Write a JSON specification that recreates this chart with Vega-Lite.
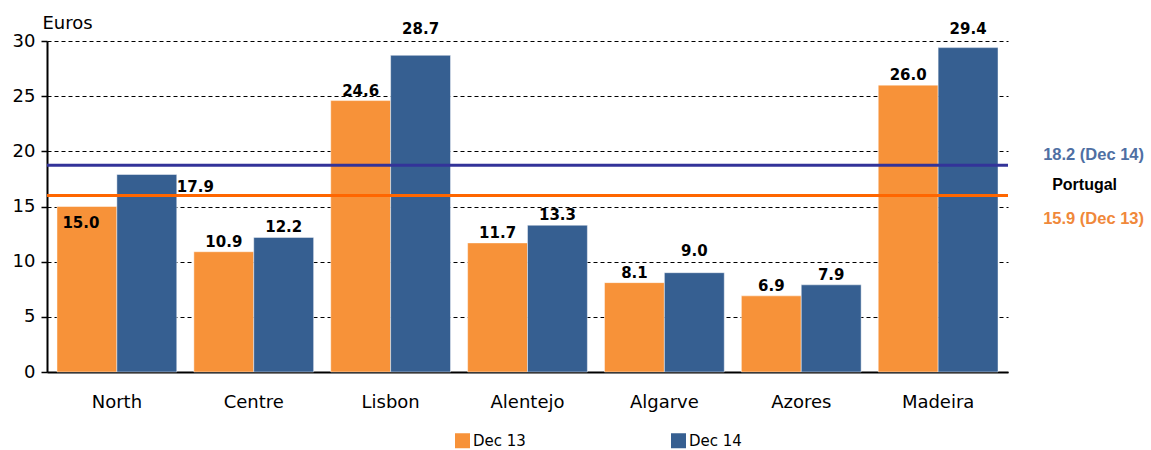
{
  "$schema": "https://vega.github.io/schema/vega-lite/v6.json",
  "width": 961,
  "height": 331,
  "autosize": {"type": "none"},
  "padding": {"left": 47, "top": 41, "right": 143, "bottom": 78},
  "background": "white",
  "config": {
    "view": {"stroke": null},
    "font": "DejaVu Sans",
    "axis": {"labelColor": "#000000", "titleColor": "#000000"}
  },
  "datasets": {
    "bars": [
      {"region": "North", "series": "Dec 13", "value": 15.0},
      {"region": "North", "series": "Dec 14", "value": 17.9},
      {"region": "Centre", "series": "Dec 13", "value": 10.9},
      {"region": "Centre", "series": "Dec 14", "value": 12.2},
      {"region": "Lisbon", "series": "Dec 13", "value": 24.6},
      {"region": "Lisbon", "series": "Dec 14", "value": 28.7},
      {"region": "Alentejo", "series": "Dec 13", "value": 11.7},
      {"region": "Alentejo", "series": "Dec 14", "value": 13.3},
      {"region": "Algarve", "series": "Dec 13", "value": 8.1},
      {"region": "Algarve", "series": "Dec 14", "value": 9.0},
      {"region": "Azores", "series": "Dec 13", "value": 6.9},
      {"region": "Azores", "series": "Dec 14", "value": 7.9},
      {"region": "Madeira", "series": "Dec 13", "value": 26.0},
      {"region": "Madeira", "series": "Dec 14", "value": 29.4}
    ],
    "portugal": [
      {"series": "Dec 14", "value": 18.2, "level": 18.75},
      {"series": "Dec 13", "value": 15.9, "level": 16.0}
    ]
  },
  "layer": [
    {
      "data": {"name": "bars"},
      "mark": {"type": "bar", "stroke": "#ffffff", "strokeOpacity": 0.45, "strokeWidth": 1},
      "encoding": {
        "x": {
          "field": "region",
          "type": "nominal",
          "sort": ["North", "Centre", "Lisbon", "Alentejo", "Algarve", "Azores", "Madeira"],
          "scale": {"paddingInner": 0.125, "paddingOuter": 0.073},
          "axis": {
            "title": null,
            "ticks": false,
            "domainColor": "#000000",
            "domainWidth": 2,
            "labelFont": "DejaVu Sans",
            "labelFontSize": 18,
            "labelPadding": 21,
            "labelAngle": 0,
            "grid": false
          }
        },
        "xOffset": {
          "field": "series",
          "type": "nominal",
          "sort": ["Dec 13", "Dec 14"],
          "scale": {"paddingInner": 0, "paddingOuter": 0}
        },
        "y": {
          "field": "value",
          "type": "quantitative",
          "scale": {"domain": [0, 30], "nice": false},
          "axis": {
            "title": "Euros",
            "titleAngle": 0,
            "titleAlign": "left",
            "titleBaseline": "bottom",
            "titleX": -5,
            "titleY": -9,
            "titleFont": "DejaVu Sans",
            "titleFontSize": 18,
            "titleFontWeight": "normal",
            "values": [0, 5, 10, 15, 20, 25, 30],
            "grid": true,
            "gridColor": "#000000",
            "gridDash": [4, 3],
            "gridWidth": 1,
            "domainColor": "#000000",
            "domainWidth": 2,
            "tickColor": "#000000",
            "tickSize": 6,
            "tickWidth": 1.5,
            "labelFont": "DejaVu Sans",
            "labelFontSize": 18,
            "labelPadding": 6
          }
        },
        "color": {
          "field": "series",
          "type": "nominal",
          "scale": {"domain": ["Dec 13", "Dec 14"], "range": ["#F79239", "#365F91"]},
          "legend": {
            "title": null,
            "orient": "none",
            "legendX": 408,
            "legendY": 392,
            "direction": "horizontal",
            "symbolType": "square",
            "symbolSize": 225,
            "symbolStrokeWidth": 0,
            "labelFont": "DejaVu Sans",
            "labelFontSize": 15,
            "labelColor": "#000000",
            "labelOffset": 3,
            "columnPadding": 145
          }
        }
      }
    },
    {
      "data": {"name": "bars"},
      "transform": [{"filter": "datum.region !== 'North' && datum.value < 28 && !(datum.region === 'Algarve' && datum.series === 'Dec 14')"}],
      "mark": {"type": "text", "font": "DejaVu Sans", "fontSize": 15, "fontWeight": "bold", "color": "#000000", "baseline": "alphabetic", "dy": -5},
      "encoding": {
        "x": {"field": "region", "type": "nominal", "sort": ["North", "Centre", "Lisbon", "Alentejo", "Algarve", "Azores", "Madeira"]},
        "xOffset": {"field": "series", "type": "nominal", "sort": ["Dec 13", "Dec 14"]},
        "y": {"field": "value", "type": "quantitative"},
        "text": {"field": "value", "type": "quantitative", "format": ".1f"}
      }
    },
    {
      "data": {"name": "bars"},
      "transform": [{"filter": "datum.region === 'Algarve' && datum.series === 'Dec 14'"}],
      "mark": {"type": "text", "font": "DejaVu Sans", "fontSize": 15, "fontWeight": "bold", "color": "#000000", "baseline": "alphabetic", "dy": -17},
      "encoding": {
        "x": {"field": "region", "type": "nominal", "sort": ["North", "Centre", "Lisbon", "Alentejo", "Algarve", "Azores", "Madeira"]},
        "xOffset": {"field": "series", "type": "nominal", "sort": ["Dec 13", "Dec 14"]},
        "y": {"field": "value", "type": "quantitative"},
        "text": {"field": "value", "type": "quantitative", "format": ".1f"}
      }
    },
    {
      "data": {"name": "bars"},
      "transform": [{"filter": "datum.value >= 28"}],
      "mark": {"type": "text", "font": "DejaVu Sans", "fontSize": 15, "fontWeight": "bold", "color": "#000000", "baseline": "alphabetic", "dy": -7},
      "encoding": {
        "x": {"field": "region", "type": "nominal", "sort": ["North", "Centre", "Lisbon", "Alentejo", "Algarve", "Azores", "Madeira"]},
        "xOffset": {"field": "series", "type": "nominal", "sort": ["Dec 13", "Dec 14"]},
        "y": {"datum": 30, "type": "quantitative"},
        "text": {"field": "value", "type": "quantitative", "format": ".1f"}
      }
    },
    {
      "data": {"name": "bars"},
      "transform": [{"filter": "datum.region === 'North' && datum.series === 'Dec 13'"}],
      "mark": {"type": "text", "font": "DejaVu Sans", "fontSize": 15, "fontWeight": "bold", "color": "#000000", "baseline": "alphabetic", "dy": 21, "dx": -6},
      "encoding": {
        "x": {"field": "region", "type": "nominal", "sort": ["North", "Centre", "Lisbon", "Alentejo", "Algarve", "Azores", "Madeira"]},
        "xOffset": {"field": "series", "type": "nominal", "sort": ["Dec 13", "Dec 14"]},
        "y": {"field": "value", "type": "quantitative"},
        "text": {"field": "value", "type": "quantitative", "format": ".1f"}
      }
    },
    {
      "data": {"name": "bars"},
      "transform": [{"filter": "datum.region === 'North' && datum.series === 'Dec 14'"}],
      "mark": {"type": "text", "font": "DejaVu Sans", "fontSize": 15, "fontWeight": "bold", "color": "#000000", "baseline": "alphabetic", "align": "left", "dy": 17, "dx": 30},
      "encoding": {
        "x": {"field": "region", "type": "nominal", "sort": ["North", "Centre", "Lisbon", "Alentejo", "Algarve", "Azores", "Madeira"]},
        "xOffset": {"field": "series", "type": "nominal", "sort": ["Dec 13", "Dec 14"]},
        "y": {"field": "value", "type": "quantitative"},
        "text": {"field": "value", "type": "quantitative", "format": ".1f"}
      }
    },
    {
      "data": {"name": "portugal"},
      "mark": {"type": "rule", "strokeWidth": 3},
      "encoding": {
        "y": {"field": "level", "type": "quantitative"},
        "color": {"condition": {"test": "datum.series === 'Dec 14'", "value": "#333399"}, "value": "#FF6600"}
      }
    },
    {
      "data": {"name": "portugal"},
      "transform": [
        {"filter": "datum.series === 'Dec 14'"},
        {"calculate": "format(datum.value, '.1f') + ' (' + datum.series + ')'", "as": "label"}
      ],
      "mark": {"type": "text", "font": "Liberation Sans", "fontSize": 16.5, "fontWeight": "bold", "baseline": "alphabetic", "align": "left", "dx": 105, "dy": -5, "color": "#4F6FA3"},
      "encoding": {
        "x": {"datum": "Madeira", "type": "nominal"},
        "y": {"field": "level", "type": "quantitative"},
        "text": {"field": "label"}
      }
    },
    {
      "data": {"name": "portugal"},
      "transform": [
        {"filter": "datum.series === 'Dec 13'"},
        {"calculate": "format(datum.value, '.1f') + ' (' + datum.series + ')'", "as": "label"}
      ],
      "mark": {"type": "text", "font": "Liberation Sans", "fontSize": 16.5, "fontWeight": "bold", "baseline": "alphabetic", "align": "left", "dx": 105, "dy": 29, "color": "#F0883A"},
      "encoding": {
        "x": {"datum": "Madeira", "type": "nominal"},
        "y": {"field": "level", "type": "quantitative"},
        "text": {"field": "label"}
      }
    },
    {
      "data": {"values": [{"label": "Portugal"}]},
      "mark": {"type": "text", "font": "Liberation Sans", "fontSize": 16, "fontWeight": "bold", "baseline": "alphabetic", "align": "left", "dx": 114, "dy": -5.5, "color": "#000000"},
      "encoding": {
        "x": {"datum": "Madeira", "type": "nominal"},
        "y": {"datum": 16.0, "type": "quantitative"},
        "text": {"field": "label"}
      }
    }
  ]
}
